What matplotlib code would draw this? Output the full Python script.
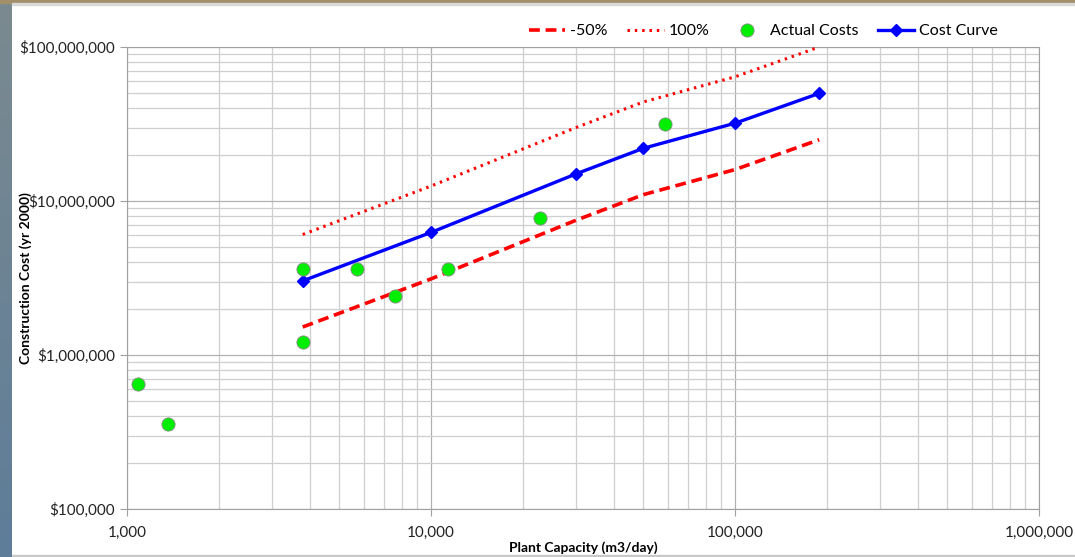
import numpy as np
import matplotlib.pyplot as plt
from matplotlib.colors import LinearSegmentedColormap
from matplotlib.ticker import FuncFormatter, LogLocator, NullFormatter
from matplotlib.patches import Rectangle

# plant capacity (m3/day) and construction cost (yr 2000 $)
curve_cap = [3785, 10000, 30000, 50000, 100000, 189270]
curve_cost = [3.03e6, 6.25e6, 1.5e7, 2.2e7, 3.2e7, 5.0e7]
minus50_cost = [1.52e6, 3.12e6, 7.5e6, 1.1e7, 1.6e7, 2.5e7]
plus100_cost = [6.06e6, 1.25e7, 3.0e7, 4.4e7, 6.4e7, 1.0e8]

actual_cap = [1090, 1365, 3785, 3785, 5700, 7600, 11360, 22850, 58900]
actual_cost = [6.5e5, 3.57e5, 3.6e6, 1.21e6, 3.6e6, 2.42e6, 3.6e6, 7.8e6, 3.16e7]

plt.rcParams['font.family'] = ['Lato', 'DejaVu Sans']

fig = plt.figure(figsize=(10.75, 5.57), dpi=100)
fig.patch.set_facecolor('white')

# slide frame: slate strip at left, thin brown border on top
strip = fig.add_axes([0, 0, 12 / 1075, 1])
grad = np.linspace(0, 1, 100).reshape(-1, 1)
strip.imshow(grad, aspect='auto', extent=[0, 1, 0, 1],
             cmap=LinearSegmentedColormap.from_list('slate', ['#7b8a90', '#5e7d99']))
strip.axis('off')
fig.patches.append(Rectangle((0, 1 - 3 / 557), 1, 3 / 557, transform=fig.transFigure,
                             color='#a38f69', zorder=0))
fig.patches.append(Rectangle((12 / 1075, 1 - 5 / 557), 1, 2 / 557, transform=fig.transFigure,
                             color='#d9d9d9', zorder=0))
fig.patches.append(Rectangle((12 / 1075, 0), 1, 2 / 557, transform=fig.transFigure,
                             color='#c8c8c8', zorder=0))

ax = fig.add_axes([127 / 1075, 48 / 557, (1039 - 127) / 1075, (509 - 47) / 557])
ax.set_xscale('log')
ax.set_yscale('log')
ax.set_xlim(1000, 1e6)
ax.set_ylim(1e5, 1e8)

ax.plot(curve_cap, minus50_cost, color='#ff0000', lw=2.6, ls=(0, (3, 1.6)), label='-50%', zorder=3)
ax.plot(curve_cap, plus100_cost, color='#ff0000', lw=2.2, ls=(0, (0.8, 1.6)), label='100%', zorder=3)
ax.plot(actual_cap, actual_cost, ls='none', marker='o', ms=9.5, mfc='#00ee00',
        mec='#8a8a8a', mew=0.6, label='Actual Costs', zorder=5)
ax.plot(curve_cap, curve_cost, color='#0000ff', lw=2.4, marker='D', ms=6,
        label='Cost Curve', zorder=4)

ax.xaxis.set_major_locator(LogLocator(base=10))
ax.yaxis.set_major_locator(LogLocator(base=10))
ax.xaxis.set_minor_locator(LogLocator(base=10, subs=np.arange(2, 10)))
ax.yaxis.set_minor_locator(LogLocator(base=10, subs=np.arange(2, 10)))
ax.xaxis.set_major_formatter(FuncFormatter(lambda v, p: f'{v:,.0f}'))
ax.yaxis.set_major_formatter(FuncFormatter(lambda v, p: f'${v:,.0f}'))
ax.xaxis.set_minor_formatter(NullFormatter())
ax.yaxis.set_minor_formatter(NullFormatter())

ax.grid(True, which='major', color='#b0b0b0', lw=0.9)
ax.grid(True, which='minor', color='#cfcfcf', lw=0.9)
ax.set_axisbelow(True)
for s in ax.spines.values():
    s.set_color('#a0a0a0')
ax.tick_params(which='major', length=5, color='#a0a0a0', labelsize=11, labelcolor='#222222')
ax.tick_params(axis='x', pad=7)
ax.tick_params(which='minor', length=0)

ax.set_xlabel('Plant Capacity (m3/day)', fontsize=10, fontweight='bold', labelpad=1)
ax.set_ylabel('Construction Cost (yr 2000)', fontsize=10, fontweight='bold')
ax.yaxis.set_label_coords(-0.104, 0.5)

fig.legend(loc='center', bbox_to_anchor=(0.71, 0.944), ncol=4, frameon=False, fontsize=11.5,
           handlelength=2.3, columnspacing=1.2, handletextpad=0.3)

fig.savefig('out.png', dpi=100)
